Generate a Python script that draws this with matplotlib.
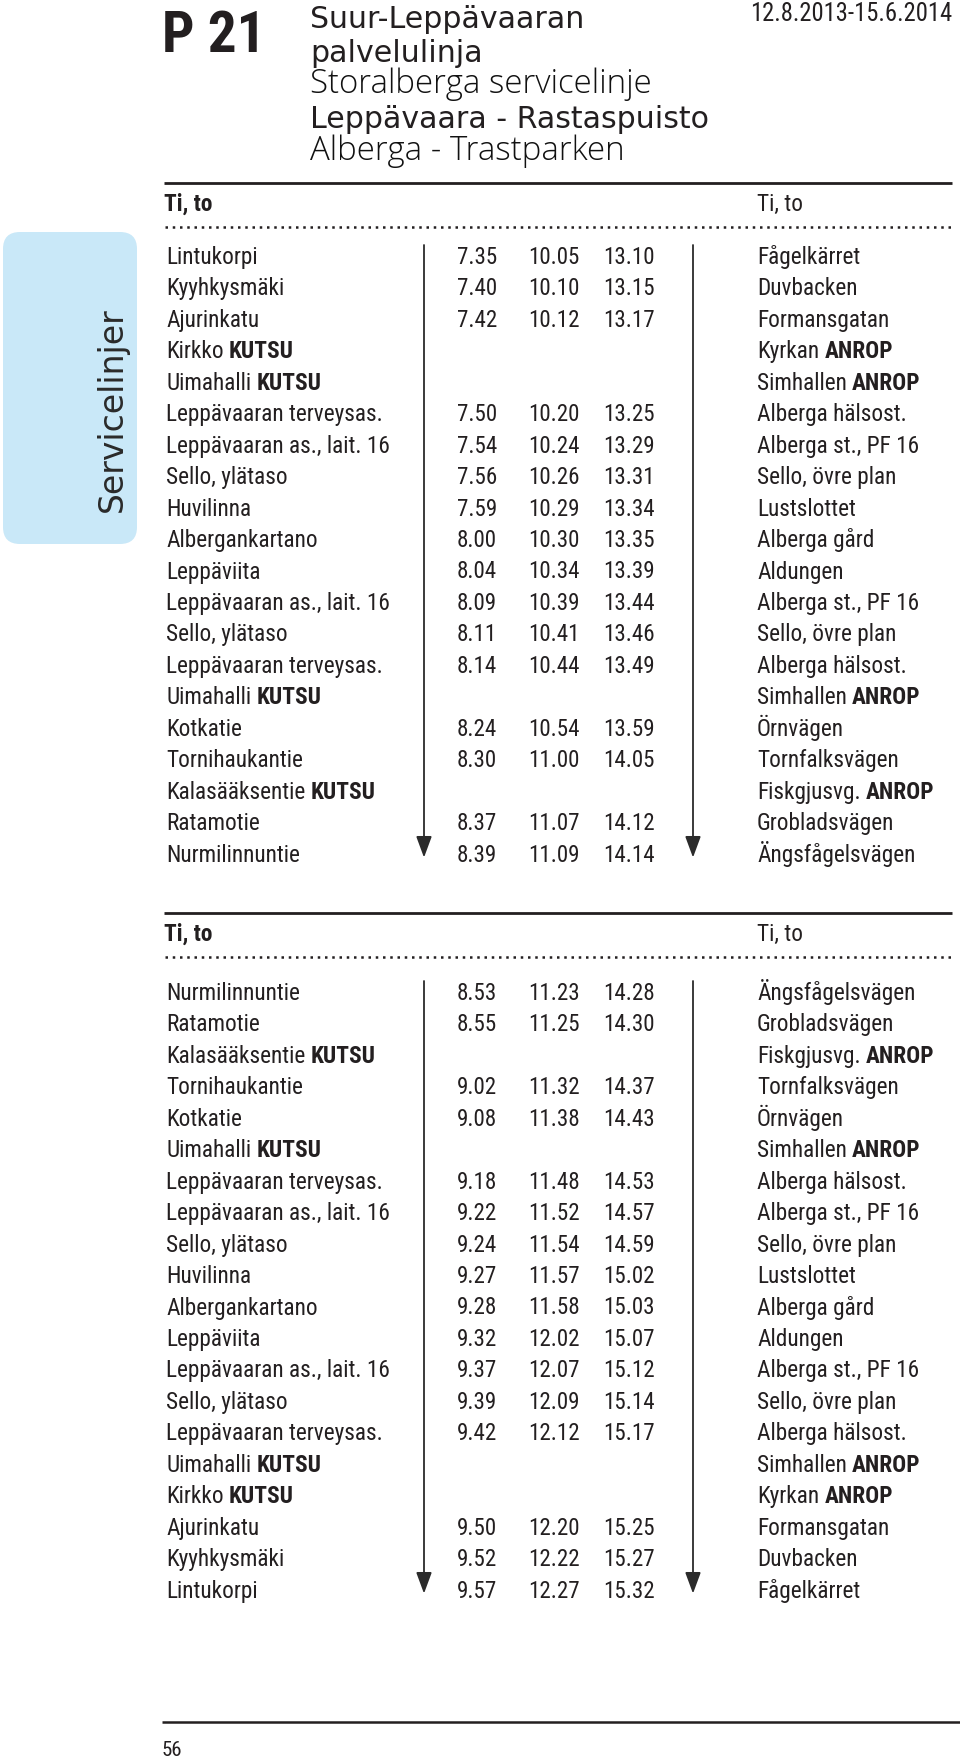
import matplotlib
matplotlib.use("Agg")
import matplotlib.pyplot as plt
from matplotlib import font_manager as fm
from matplotlib.patches import FancyBboxPatch

# ---- data ----
title_lines = ["Suur-Leppävaaran", "palvelulinja", "Storalberga servicelinje",
               "Leppävaara - Rastaspuisto", "Alberga - Trastparken"]
title_bold = [True, True, False, True, False]
line_no = "P 21"
valid = "12.8.2013-15.6.2014"
days = "Ti, to"
side_tab = "Servicelinjer"
page_no = "56"

stops_fi_1 = ["Lintukorpi", "Kyyhkysmäki", "Ajurinkatu", "Kirkko KUTSU", "Uimahalli KUTSU",
              "Leppävaaran terveysas.", "Leppävaaran as., lait. 16", "Sello, ylätaso", "Huvilinna",
              "Albergankartano", "Leppäviita", "Leppävaaran as., lait. 16", "Sello, ylätaso",
              "Leppävaaran terveysas.", "Uimahalli KUTSU", "Kotkatie", "Tornihaukantie",
              "Kalasääksentie KUTSU", "Ratamotie", "Nurmilinnuntie"]
stops_sv_1 = ["Fågelkärret", "Duvbacken", "Formansgatan", "Kyrkan ANROP", "Simhallen ANROP",
              "Alberga hälsost.", "Alberga st., PF 16", "Sello, övre plan", "Lustslottet",
              "Alberga gård", "Aldungen", "Alberga st., PF 16", "Sello, övre plan",
              "Alberga hälsost.", "Simhallen ANROP", "Örnvägen", "Tornfalksvägen",
              "Fiskgjusvg. ANROP", "Grobladsvägen", "Ängsfågelsvägen"]
dep1_1 = ["7.35", "7.40", "7.42", "", "", "7.50", "7.54", "7.56", "7.59", "8.00", "8.04",
          "8.09", "8.11", "8.14", "", "8.24", "8.30", "", "8.37", "8.39"]
dep2_1 = ["10.05", "10.10", "10.12", "", "", "10.20", "10.24", "10.26", "10.29", "10.30", "10.34",
          "10.39", "10.41", "10.44", "", "10.54", "11.00", "", "11.07", "11.09"]
dep3_1 = ["13.10", "13.15", "13.17", "", "", "13.25", "13.29", "13.31", "13.34", "13.35", "13.39",
          "13.44", "13.46", "13.49", "", "13.59", "14.05", "", "14.12", "14.14"]

stops_fi_2 = ["Nurmilinnuntie", "Ratamotie", "Kalasääksentie KUTSU", "Tornihaukantie", "Kotkatie",
              "Uimahalli KUTSU", "Leppävaaran terveysas.", "Leppävaaran as., lait. 16",
              "Sello, ylätaso", "Huvilinna", "Albergankartano", "Leppäviita",
              "Leppävaaran as., lait. 16", "Sello, ylätaso", "Leppävaaran terveysas.",
              "Uimahalli KUTSU", "Kirkko KUTSU", "Ajurinkatu", "Kyyhkysmäki", "Lintukorpi"]
stops_sv_2 = ["Ängsfågelsvägen", "Grobladsvägen", "Fiskgjusvg. ANROP", "Tornfalksvägen", "Örnvägen",
              "Simhallen ANROP", "Alberga hälsost.", "Alberga st., PF 16", "Sello, övre plan",
              "Lustslottet", "Alberga gård", "Aldungen", "Alberga st., PF 16", "Sello, övre plan",
              "Alberga hälsost.", "Simhallen ANROP", "Kyrkan ANROP", "Formansgatan", "Duvbacken",
              "Fågelkärret"]
dep1_2 = ["8.53", "8.55", "", "9.02", "9.08", "", "9.18", "9.22", "9.24", "9.27", "9.28", "9.32",
          "9.37", "9.39", "9.42", "", "", "9.50", "9.52", "9.57"]
dep2_2 = ["11.23", "11.25", "", "11.32", "11.38", "", "11.48", "11.52", "11.54", "11.57", "11.58",
          "12.02", "12.07", "12.09", "12.12", "", "", "12.20", "12.22", "12.27"]
dep3_2 = ["14.28", "14.30", "", "14.37", "14.43", "", "14.53", "14.57", "14.59", "15.02", "15.03",
          "15.07", "15.12", "15.14", "15.17", "", "", "15.25", "15.27", "15.32"]

bold_words = ("KUTSU", "ANROP")

# ---- fonts ----
def find_font(cands, weight=400):
    for name, stretch in cands:
        for f in fm.fontManager.ttflist:
            w = f.weight if isinstance(f.weight, int) else fm.weight_dict.get(f.weight, 400)
            if f.name == name and f.style == "normal" and abs(w - weight) < 60 \
                    and (stretch is None or f.stretch == stretch):
                return f.fname
    return None

narrow = [("Roboto Condensed", None), ("Roboto", "condensed"), ("Liberation Sans Narrow", None),
          ("DejaVu Sans", "condensed"), ("Liberation Sans", None)]
reg_path = find_font(narrow, 400)
bold_path = find_font(narrow, 700) or reg_path
head_path = find_font([("DejaVu Sans", "normal"), ("DejaVu Sans", None)], 400)
light_path = find_font([("Open Sans", "normal"), ("Noto Sans", "normal"), ("Lato", "normal")], 300) \
    or find_font([("Lato", "normal"), ("Open Sans", "normal")], 400) or head_path

def fp(path, size):
    return fm.FontProperties(fname=path, size=size)

W, H = 960, 1763
fig = plt.figure(figsize=(9.6, 17.63), dpi=100)
ax = fig.add_axes([0, 0, 1, 1])
ax.set_xlim(0, W)
ax.set_ylim(H, 0)
ax.axis("off")
renderer = fig.canvas.get_renderer()
ink = "#231f20"

def width(s, prop):
    t = ax.text(0, 0, s, fontproperties=prop)
    w = t.get_window_extent(renderer).width
    t.remove()
    return w

def fit(path, s, target):
    return 10 * target / width(s, fp(path, 10))

name_size = fit(reg_path, "Leppävaaran as., lait. 16", 222)
time_size = fit(reg_path, "10.05", 51)
name_fp = fp(reg_path, name_size)
bold_fp = fp(bold_path, name_size)
time_fp = fp(reg_path, time_size)
space_w = width("a a", name_fp) - width("aa", name_fp)

def put_name(x, y, s):
    parts = s.split(" ")
    if parts[-1] in bold_words:
        head = " ".join(parts[:-1])
        ax.text(x, y, head, fontproperties=name_fp, color=ink, va="baseline")
        ax.text(x + width(head, name_fp) + space_w, y, parts[-1], fontproperties=bold_fp,
                color=ink, va="baseline")
    else:
        ax.text(x, y, s, fontproperties=name_fp, color=ink, va="baseline")

# ---- header ----
p_size = fit(bold_path, line_no, 104)
ax.text(162, 52, line_no, fontproperties=fp(bold_path, p_size), color=ink, va="baseline")
tb = [28, 62, 93, 128, 160]
t_size_b = fit(head_path, "Leppävaara - Rastaspuisto", 400)
t_size_l = min(fit(light_path, "Storalberga servicelinje", 352), t_size_b * 1.1)
for s, b, y in zip(title_lines, title_bold, tb):
    if b:
        ax.text(310, y, s, fontproperties=fp(head_path, t_size_b), color=ink, va="baseline")
    else:
        ax.text(310, y, s, fontproperties=fp(light_path, t_size_l), color="#111111", va="baseline")
d_size = fit(reg_path, valid, 200)
ax.text(952, 21, valid, fontproperties=fp(reg_path, d_size), color=ink, va="baseline", ha="right")

# side tab
ax.add_patch(FancyBboxPatch((3, 232), 134, 312, boxstyle="round,pad=0,rounding_size=17",
                            fc="#c9e8f8", ec="none"))
tab_size = fit(head_path, side_tab, 204)
ax.text(112, 410, side_tab, fontproperties=fp(head_path, tab_size), color="#2a2a2a",
        rotation=90, ha="center", va="center")

# ---- timetable blocks ----
col_x = [457, 528, 603]
left_x, line_l, line_r, right_x = 166, 424, 693, 757
step = 31.45

def block(rule_y, first_y, fi, sv, c1, c2, c3):
    ax.plot([164, 952], [rule_y, rule_y], color=ink, lw=2.0, solid_capstyle="butt")
    ax.text(164, rule_y + 28, days, fontproperties=bold_fp, color=ink, va="baseline")
    ax.text(right_x, rule_y + 28, days, fontproperties=name_fp, color=ink, va="baseline")
    ax.plot([165, 952], [rule_y + 44, rule_y + 44], color=ink, lw=1.8,
            dashes=(1.0, 1.9), dash_capstyle="butt")
    n = len(fi)
    for i in range(n):
        yb = first_y + i * step + 9
        put_name(left_x, yb, fi[i])
        put_name(right_x, yb, sv[i])
        for x, v in zip(col_x, (c1[i], c2[i], c3[i])):
            if v:
                ax.text(x, yb, v, fontproperties=time_fp, color=ink, va="baseline")
    top = first_y - 10
    tip = first_y + (n - 1) * step + 5
    for x in (line_l, line_r):
        ax.annotate("", xy=(x, tip), xytext=(x, top),
                    arrowprops=dict(arrowstyle="-|>,head_length=0.65,head_width=0.24",
                                    mutation_scale=20, color="#2b2b2b", lw=1.3,
                                    shrinkA=0, shrinkB=0))

block(183, 255, stops_fi_1, stops_sv_1, dep1_1, dep2_1, dep3_1)
block(913, 991, stops_fi_2, stops_sv_2, dep1_2, dep2_2, dep3_2)

# ---- footer ----
ax.plot([162, 960], [1722, 1722], color=ink, lw=1.8, solid_capstyle="butt")
ax.text(162, 1756, page_no, fontproperties=fp(reg_path, name_size * 0.9), color=ink, va="baseline")

fig.savefig("out.png", dpi=100, facecolor="white")
